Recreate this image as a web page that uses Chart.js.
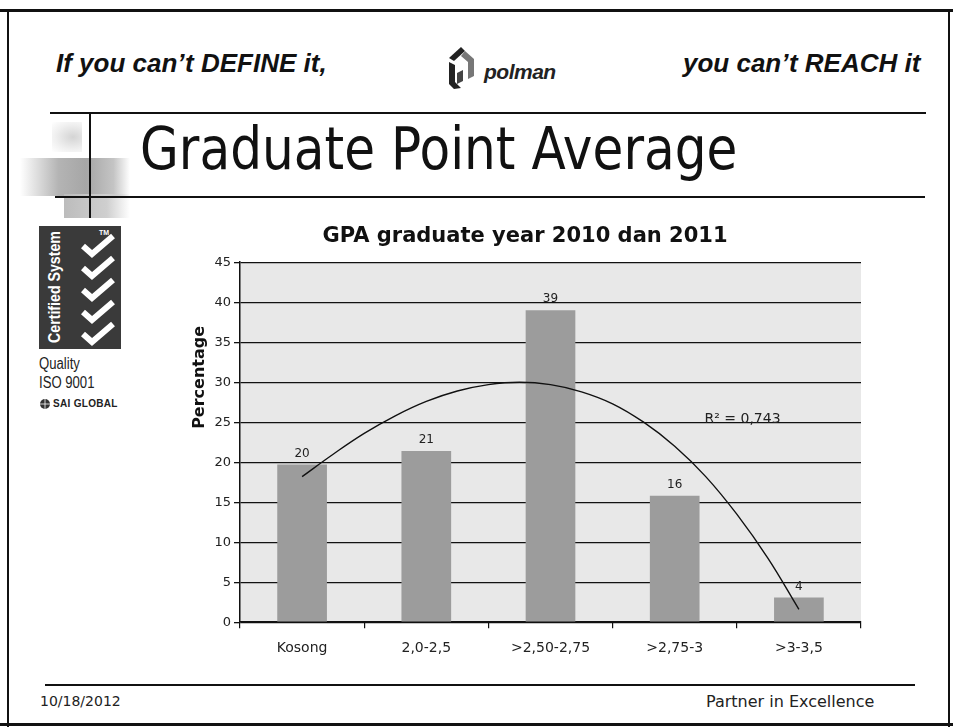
<!DOCTYPE html>
<html>
<head>
<meta charset="utf-8">
<script src="https://cdn.jsdelivr.net/npm/chart.js@4/dist/chart.umd.min.js"></script>
<style>
  html, body { margin: 0; padding: 0; background: #fff; }
  #page { position: relative; width: 953px; height: 727px; overflow: hidden; background: #fff; }
  .abs { position: absolute; }
  .hline { position: absolute; background: #111; }
  .motto { position: absolute; font-family: "Liberation Sans", Arial, sans-serif; font-style: italic; font-weight: bold; font-size: 26px; color: #111; white-space: nowrap; line-height: normal; }
  #title { position: absolute; left: 140px; top: 114px; font-family: "DejaVu Sans", sans-serif; font-size: 59px; color: #111; white-space: nowrap; line-height: normal; transform: scaleX(0.85); transform-origin: 0 0; }
  .foot { position: absolute; font-family: "DejaVu Sans", sans-serif; font-size: 14px; color: #222; white-space: nowrap; }
  #chartBox { position: absolute; left: 189px; top: 222px; width: 691px; height: 447px; }
</style>
</head>
<body>
<div id="page">
  <!-- slide frame -->
  <div class="hline" style="left:0;top:9px;width:953px;height:3px;"></div>
  <div class="hline" style="left:7px;top:9px;width:2px;height:718px;"></div>
  <div class="hline" style="left:948px;top:9px;width:2px;height:718px;"></div>
  <div class="hline" style="left:0;top:723px;width:953px;height:3px;"></div>

  <!-- header -->
  <div class="motto" style="left:56px;top:48px;">If you can’t DEFINE it,</div>
  <div class="motto" style="left:683px;top:48px;">you can’t REACH it</div>
  <svg class="abs" style="left:446px;top:44px;" width="30" height="48" viewBox="0 0 30 48">
    <path d="M3 14 L15 3 L19 7 L8 17 Z" fill="#222"/>
    <path d="M19 7 L28 15 L28 32 L22 35 L22 18 L15 12 Z" fill="#777"/>
    <path d="M3 18 L9 21 L9 38 L15 44 L8 45 L3 40 Z" fill="#222"/>
    <path d="M11 29 L17 26 L17 37 L11 40 Z" fill="#444"/>
  </svg>
  <div class="abs" style="left:484px;top:60px;font-family:'Liberation Sans',Arial,sans-serif;font-style:italic;font-weight:bold;font-size:21px;color:#222;letter-spacing:-0.5px;">polman</div>

  <!-- title block -->
  <div class="abs" style="left:52px;top:122px;width:30px;height:30px;background:radial-gradient(ellipse at 70% 50%, #d4d4d4 0%, rgba(225,225,225,0.5) 60%, rgba(255,255,255,0) 100%);"></div>
  <div class="abs" style="left:20px;top:158px;width:110px;height:38px;background:linear-gradient(to right, rgba(200,200,200,0) 0%, #b4b4b4 35%, #a6a6a6 60%, #c4c4c4 85%, rgba(230,230,230,0) 100%);"></div>
  <div class="abs" style="left:64px;top:194px;width:66px;height:24px;background:linear-gradient(to right, #bcbcbc, #cfcfcf 65%, rgba(240,240,240,0));"></div>
  <div class="hline" style="left:50px;top:112px;width:876px;height:2px;"></div>
  <div class="hline" style="left:89px;top:112px;width:2px;height:106px;"></div>
  <div class="hline" style="left:55px;top:196px;width:870px;height:2px;"></div>
  <div id="title">Graduate Point Average</div>

  <!-- certification badge -->
  <svg class="abs" style="left:39px;top:226px;" width="82" height="124" viewBox="0 0 82 124">
    <rect x="0" y="0" width="82" height="123" fill="#3a3a3a"/>
    <text transform="translate(21,117) rotate(-90)" font-family="Liberation Sans, Arial" font-weight="bold" font-size="17" fill="#fff" textLength="112" lengthAdjust="spacingAndGlyphs">Certified System</text>
    <text x="60" y="9" font-family="Liberation Sans, Arial" font-size="7" font-weight="bold" fill="#fff">TM</text>
    <g fill="none" stroke="#fff" stroke-width="6" stroke-linejoin="miter">
      <polyline points="44,20 53,28 74,10"/>
      <polyline points="44,42 53,50 74,32"/>
      <polyline points="44,64 53,72 74,54"/>
      <polyline points="44,86 53,94 74,76"/>
      <polyline points="44,108 53,116 74,98"/>
    </g>
  </svg>
  <div class="abs" style="left:39px;top:354px;font-family:'Liberation Sans',Arial;font-size:16px;color:#222;line-height:19px;transform:scaleX(0.82);transform-origin:0 0;">Quality<br>ISO 9001</div>
  <svg class="abs" style="left:39px;top:398px;" width="12" height="12" viewBox="0 0 12 12">
    <circle cx="6" cy="6" r="5" fill="#333"/>
    <path d="M1 6 H11 M6 1 V11" stroke="#fff" stroke-width="0.8"/>
  </svg>
  <div class="abs" style="left:53px;top:398px;font-family:'Liberation Sans',Arial;font-weight:bold;font-size:10px;color:#222;white-space:nowrap;letter-spacing:0.3px;">SAI GLOBAL</div>

  <!-- chart -->
  <div id="chartBox"><canvas id="gpaChart"></canvas></div>

  <!-- footer -->
  <div class="hline" style="left:45px;top:684px;width:870px;height:2px;"></div>
  <div class="foot" style="left:40px;top:693px;">10/18/2012</div>
  <div class="foot" style="left:706px;top:692px;font-size:16px;">Partner in Excellence</div>
</div>

<script>
// GPA distribution, graduates 2010 and 2011
const categories = ['Kosong', '2,0-2,5', '>2,50-2,75', '>2,75-3', '>3-3,5'];
const barValues = [19.7, 21.4, 39.0, 15.8, 3.1];
const barLabels = ['20', '21', '39', '16', '4'];

// polynomial trendline at quarter-category steps
const trendX = [0, 0.25, 0.5, 0.75, 1, 1.25, 1.5, 1.75, 2, 2.25, 2.5, 2.75, 3, 3.25, 3.5, 3.75, 4];
const trendY = [18.2, 21.0, 23.6, 25.8, 27.6, 28.9, 29.7, 30.0, 29.7, 28.8, 27.3, 25.0, 22.0, 18.2, 13.5, 8.0, 1.6];
const trendLabel = 'R² = 0,743';

const yTicks = [0, 5, 10, 15, 20, 25, 30, 35, 40, 45];
const yTitle = 'Percentage';

const tahoma = '"DejaVu Sans", Tahoma, sans-serif';

// grey plot area
const plotBg = {
  id: 'plotBg',
  beforeDraw(chart) {
    const a = chart.chartArea;
    const ctx = chart.ctx;
    ctx.save();
    ctx.fillStyle = '#e8e8e8';
    ctx.fillRect(a.left, a.top, a.right - a.left, a.bottom - a.top);
    ctx.restore();
  }
};

// value labels over bars, R² text, and the axis title (moved up like in the original)
const barText = {
  id: 'barText',
  afterDatasetsDraw(chart) {
    const ctx = chart.ctx;
    const meta = chart.getDatasetMeta(0);
    ctx.save();
    ctx.font = '12px ' + tahoma;
    ctx.fillStyle = '#222';
    ctx.textAlign = 'center';
    ctx.textBaseline = 'bottom';
    meta.data.forEach(function(bar, i) {
      ctx.fillText(barLabels[i], bar.x, bar.y - 5);
    });
    const xs = chart.scales.xt;
    const ys = chart.scales.y;
    ctx.font = '14px ' + tahoma;
    ctx.textAlign = 'left';
    ctx.textBaseline = 'middle';
    ctx.fillText(trendLabel, xs.getPixelForValue(3.24), ys.getPixelForValue(25.4));

    ctx.translate(ys.left + 11, ys.getPixelForValue(30.6));
    ctx.rotate(-Math.PI / 2);
    ctx.font = 'bold 16px ' + tahoma;
    ctx.fillStyle = '#111';
    ctx.textAlign = 'center';
    ctx.fillText(yTitle, 0, 0);
    ctx.restore();
  }
};

const trendPoints = trendX.map(function(x, i) { return { x: x, y: trendY[i] }; });

new Chart(document.getElementById('gpaChart').getContext('2d'), {
  type: 'bar',
  data: {
    labels: categories,
    datasets: [{
      label: 'GPA',
      data: barValues,
      backgroundColor: '#9c9c9c',
      borderWidth: 0,
      grouped: false,
      categoryPercentage: 1.0,
      barPercentage: 0.4,
      order: 2
    }, {
      type: 'line',
      label: 'Trend',
      data: trendPoints,
      xAxisID: 'xt',
      borderColor: '#111',
      borderWidth: 1.4,
      pointRadius: 0,
      tension: 0.4,
      fill: false,
      order: 1
    }]
  },
  options: {
    responsive: true,
    maintainAspectRatio: false,
    animation: false,
    layout: { padding: { left: 0, right: 19, top: 0, bottom: 0 } },
    plugins: {
      legend: { display: false },
      tooltip: { enabled: false },
      title: {
        display: true,
        text: 'GPA graduate year 2010 dan 2011',
        color: '#111',
        font: { family: tahoma, size: 21, weight: 'bold' },
        padding: { top: 2, bottom: 13 }
      }
    },
    scales: {
      x: {
        offset: true,
        border: { color: '#111', width: 1.5 },
        grid: { display: true, drawOnChartArea: false, drawTicks: true, tickLength: 6, color: '#111', lineWidth: 1.2, offset: true },
        ticks: { color: '#222', font: { family: tahoma, size: 14 }, padding: 12, maxRotation: 0 }
      },
      xt: {
        type: 'linear',
        display: false,
        offset: false,
        min: -0.5,
        max: 4.5
      },
      y: {
        min: 0,
        max: 45,
        afterFit: function(scale) { scale.width = 51; },
        afterBuildTicks: function(scale) { scale.ticks = yTicks.map(function(v) { return { value: v }; }); },
        border: { color: '#111', width: 1.5 },
        grid: { color: '#111', lineWidth: 1.3, tickLength: 6 },
        ticks: { color: '#222', font: { family: tahoma, size: 13 }, padding: 3 }
      }
    }
  },
  plugins: [plotBg, barText]
});
</script>
</body>
</html>
